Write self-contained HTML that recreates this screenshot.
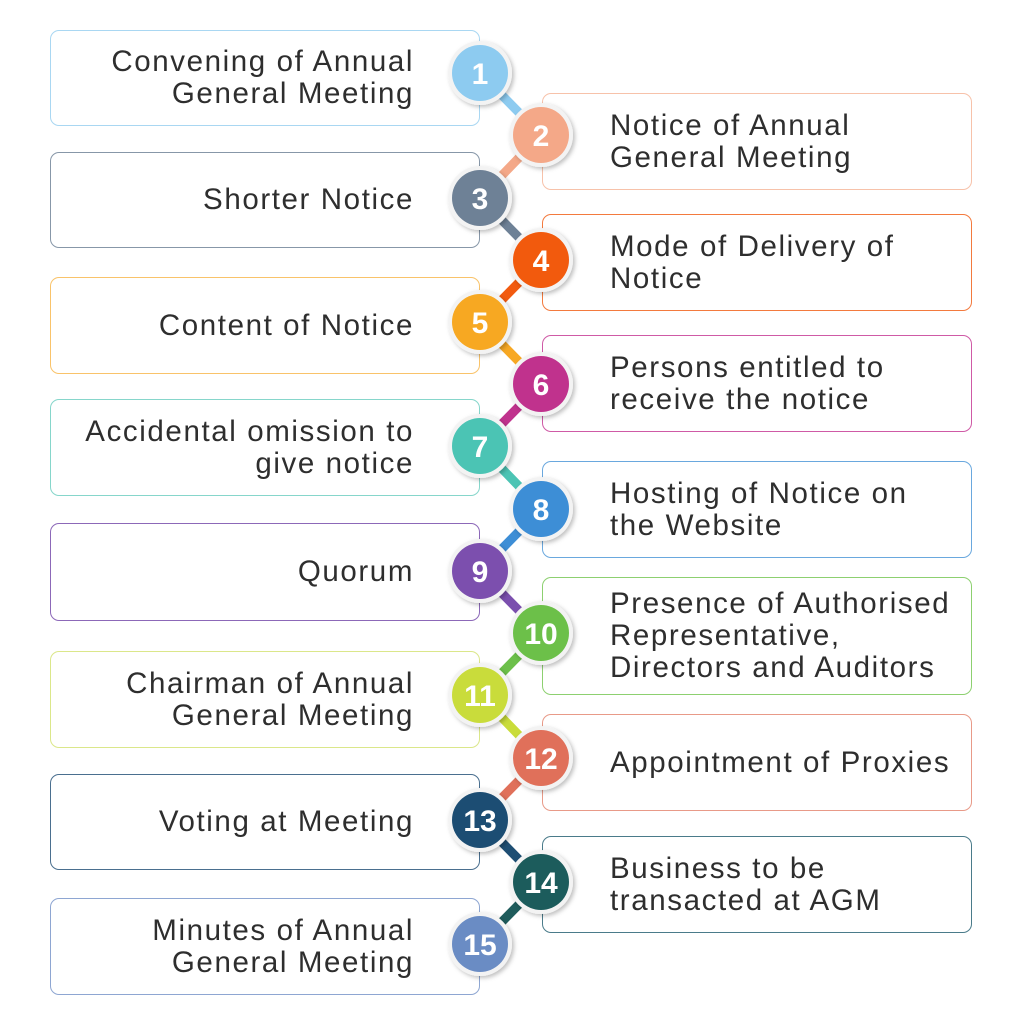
<!DOCTYPE html>
<html><head><meta charset="utf-8"><style>
body{margin:0;width:1024px;height:1024px;background:#fff;position:relative;overflow:hidden;font-family:"Liberation Sans",sans-serif}
.b{position:absolute;box-sizing:border-box;border:1.5px solid;border-radius:9px;background:#fff;display:flex;align-items:center}
.l{left:50px;width:430px;justify-content:flex-end;text-align:right;padding-right:65px}
.r{left:542px;width:430px;padding-left:67px}
.t{font-size:29.5px;line-height:32px;color:#2e2e2e;letter-spacing:1.6px;white-space:nowrap}
svg{position:absolute;left:0;top:0}
</style></head><body>
<div class="b l" style="top:30px;height:96px;border-color:#a9d7f2"><div class="t">Convening of Annual<br>General Meeting</div></div>
<div class="b r" style="top:93px;height:97px;border-color:#f7c2aa"><div class="t">Notice of Annual<br>General Meeting</div></div>
<div class="b l" style="top:152px;height:96px;border-color:#8797a8"><div class="t">Shorter Notice</div></div>
<div class="b r" style="top:214px;height:97px;border-color:#f37a3e"><div class="t">Mode of Delivery of<br>Notice</div></div>
<div class="b l" style="top:277px;height:97px;border-color:#f9c36a"><div class="t">Content of Notice</div></div>
<div class="b r" style="top:335px;height:97px;border-color:#cf5aa6"><div class="t">Persons entitled to<br>receive the notice</div></div>
<div class="b l" style="top:399px;height:97px;border-color:#86d6cb"><div class="t">Accidental omission to<br>give notice</div></div>
<div class="b r" style="top:461px;height:97px;border-color:#6aa8de"><div class="t">Hosting of Notice on<br>the Website</div></div>
<div class="b l" style="top:523px;height:98px;border-color:#8c68b8"><div class="t">Quorum</div></div>
<div class="b r" style="top:577px;height:118px;border-color:#8dd070"><div class="t">Presence of Authorised<br>Representative,<br>Directors and Auditors</div></div>
<div class="b l" style="top:651px;height:97px;border-color:#dbe78a"><div class="t">Chairman of Annual<br>General Meeting</div></div>
<div class="b r" style="top:714px;height:97px;border-color:#e89a88"><div class="t">Appointment of Proxies</div></div>
<div class="b l" style="top:774px;height:96px;border-color:#4a6f8f"><div class="t">Voting at Meeting</div></div>
<div class="b r" style="top:836px;height:97px;border-color:#4a7b8a"><div class="t">Business to be<br>transacted at AGM</div></div>
<div class="b l" style="top:898px;height:97px;border-color:#8ea6d2"><div class="t">Minutes of Annual<br>General Meeting</div></div>
<svg width="1024" height="1024">
<defs><filter id="s" x="-30%" y="-30%" width="160%" height="160%"><feDropShadow dx="2" dy="2" stdDeviation="2" flood-opacity="0.25"/></filter></defs>
<g stroke-width="9" stroke-linecap="round">
<line x1="480" y1="73" x2="541" y2="135" stroke="#8dcbf0"/>
<line x1="541" y1="135" x2="480" y2="198" stroke="#f4a888"/>
<line x1="480" y1="198" x2="541" y2="260" stroke="#6e8196"/>
<line x1="541" y1="260" x2="480" y2="322" stroke="#f25a0f"/>
<line x1="480" y1="322" x2="541" y2="384" stroke="#f7a823"/>
<line x1="541" y1="384" x2="480" y2="446" stroke="#c0328d"/>
<line x1="480" y1="446" x2="541" y2="509" stroke="#4cc4b4"/>
<line x1="541" y1="509" x2="480" y2="571" stroke="#3d8ed6"/>
<line x1="480" y1="571" x2="541" y2="633" stroke="#7b4fae"/>
<line x1="541" y1="633" x2="480" y2="695" stroke="#6cc04a"/>
<line x1="480" y1="695" x2="541" y2="758" stroke="#c9dc3a"/>
<line x1="541" y1="758" x2="480" y2="820" stroke="#e0705a"/>
<line x1="480" y1="820" x2="541" y2="882" stroke="#1e4e73"/>
<line x1="541" y1="882" x2="480" y2="944" stroke="#1f5c5c"/>
</g>
<g font-family="Liberation Sans,sans-serif" font-weight="bold" font-size="30" fill="#fff" text-anchor="middle">
<g filter="url(#s)"><circle cx="480" cy="73" r="32" fill="#f3f3f3"/><circle cx="480" cy="73" r="28" fill="#8dcbf0"/></g><text x="480" y="84">1</text>
<g filter="url(#s)"><circle cx="541" cy="135" r="32" fill="#f3f3f3"/><circle cx="541" cy="135" r="28" fill="#f4a888"/></g><text x="541" y="146">2</text>
<g filter="url(#s)"><circle cx="480" cy="198" r="32" fill="#f3f3f3"/><circle cx="480" cy="198" r="28" fill="#6e8196"/></g><text x="480" y="209">3</text>
<g filter="url(#s)"><circle cx="541" cy="260" r="32" fill="#f3f3f3"/><circle cx="541" cy="260" r="28" fill="#f25a0f"/></g><text x="541" y="271">4</text>
<g filter="url(#s)"><circle cx="480" cy="322" r="32" fill="#f3f3f3"/><circle cx="480" cy="322" r="28" fill="#f7a823"/></g><text x="480" y="333">5</text>
<g filter="url(#s)"><circle cx="541" cy="384" r="32" fill="#f3f3f3"/><circle cx="541" cy="384" r="28" fill="#c0328d"/></g><text x="541" y="395">6</text>
<g filter="url(#s)"><circle cx="480" cy="446" r="32" fill="#f3f3f3"/><circle cx="480" cy="446" r="28" fill="#4cc4b4"/></g><text x="480" y="457">7</text>
<g filter="url(#s)"><circle cx="541" cy="509" r="32" fill="#f3f3f3"/><circle cx="541" cy="509" r="28" fill="#3d8ed6"/></g><text x="541" y="520">8</text>
<g filter="url(#s)"><circle cx="480" cy="571" r="32" fill="#f3f3f3"/><circle cx="480" cy="571" r="28" fill="#7b4fae"/></g><text x="480" y="582">9</text>
<g filter="url(#s)"><circle cx="541" cy="633" r="32" fill="#f3f3f3"/><circle cx="541" cy="633" r="28" fill="#6cc04a"/></g><text x="541" y="644">10</text>
<g filter="url(#s)"><circle cx="480" cy="695" r="32" fill="#f3f3f3"/><circle cx="480" cy="695" r="28" fill="#c9dc3a"/></g><text x="480" y="706">11</text>
<g filter="url(#s)"><circle cx="541" cy="758" r="32" fill="#f3f3f3"/><circle cx="541" cy="758" r="28" fill="#e0705a"/></g><text x="541" y="769">12</text>
<g filter="url(#s)"><circle cx="480" cy="820" r="32" fill="#f3f3f3"/><circle cx="480" cy="820" r="28" fill="#1e4e73"/></g><text x="480" y="831">13</text>
<g filter="url(#s)"><circle cx="541" cy="882" r="32" fill="#f3f3f3"/><circle cx="541" cy="882" r="28" fill="#1f5c5c"/></g><text x="541" y="893">14</text>
<g filter="url(#s)"><circle cx="480" cy="944" r="32" fill="#f3f3f3"/><circle cx="480" cy="944" r="28" fill="#6a8cc4"/></g><text x="480" y="955">15</text>
</g>
</svg>
</body></html>
